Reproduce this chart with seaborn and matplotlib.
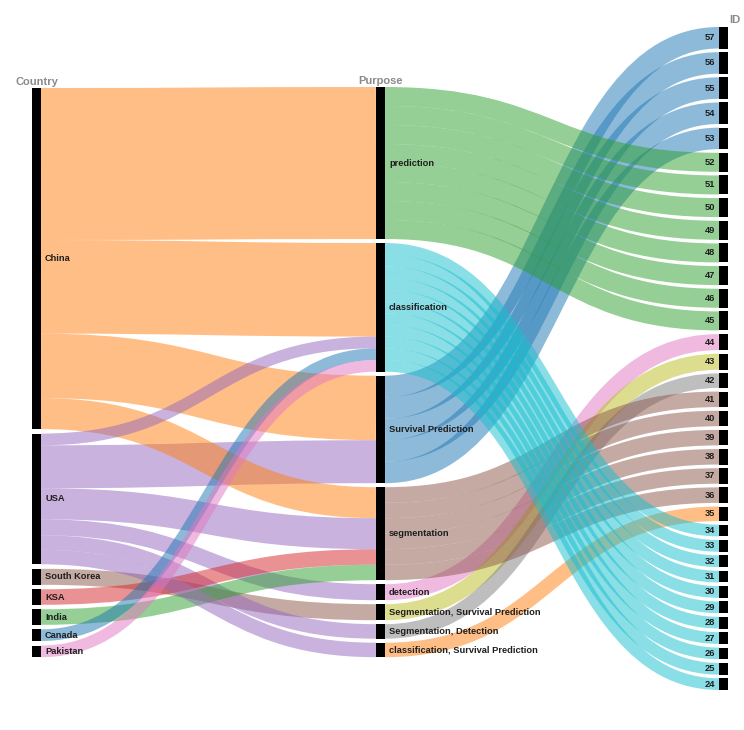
import numpy as np
import pandas as pd
import matplotlib
matplotlib.use("Agg")
import matplotlib.pyplot as plt
import seaborn as sns
from matplotlib.path import Path
from matplotlib.patches import PathPatch, Rectangle

sns.set_theme(style="white")
plt.rcParams["font.family"] = ["Liberation Sans", "DejaVu Sans"]

# ---------------- data ----------------
countries = ["China", "USA", "South Korea", "KSA", "India", "Canada", "Pakistan"]
purposes = ["prediction", "classification", "Survival Prediction", "segmentation",
            "detection", "Segmentation, Survival Prediction",
            "Segmentation, Detection", "classification, Survival Prediction"]

id_labels = ["57", "56", "55", "54", "53",
             "52", "51", "50", "49", "48", "47", "46", "45",
             "44", "43", "42",
             "41", "40", "39", "38", "37", "36",
             "35",
             "34", "33", "32", "31", "30", "29", "28", "27", "26", "25", "24"]
id_purpose = (["Survival Prediction"] * 5 + ["prediction"] * 8 +
              ["detection", "Segmentation, Survival Prediction", "Segmentation, Detection"] +
              ["segmentation"] * 6 + ["classification, Survival Prediction"] +
              ["classification"] * 11)
id_country = (["China", "China", "China", "USA", "USA"] + ["China"] * 8 +
              ["USA", "South Korea", "USA"] +
              ["China", "China", "USA", "USA", "KSA", "India"] + ["USA"] +
              ["China"] * 8 + ["USA", "Canada", "Pakistan"])
# flow width of one record, read per purpose from the picture
purpose_weight = [19.0, 11.7, 21.5, 15.5, 16.0, 16.0, 14.5, 14.5]

tab = sns.color_palette("tab10")
country_color_idx = [1, 4, 5, 3, 2, 0, 6]
purpose_color_idx = [2, 9, 0, 5, 6, 8, 7, 1]

# ---------------- layout params ----------------
W, H = 744, 730
bar_x = [32, 376, 719]
bar_w = 9
col_top = [88, 87, 27]
col_gap = [4.5, 4.0, 3.66]
titles = ["Country", "Purpose", "ID"]

df = pd.DataFrame({
    "Country": id_country,
    "Purpose": id_purpose,
    "ID": id_labels,
})
df["value"] = df["Purpose"].map(dict(zip(purposes, purpose_weight)))

cols = [countries, purposes, id_labels]
col_keys = ["Country", "Purpose", "ID"]
nodes = []  # per column dict name -> [y0, y1]
for c, (names, key) in enumerate(zip(cols, col_keys)):
    vals = df.groupby(key)["value"].sum()
    y = col_top[c]
    d = {}
    for n in names:
        v = vals[n]
        d[n] = [y, y + v]
        y += v + col_gap[c]
    nodes.append(d)

fig = plt.figure(figsize=(W / 100, H / 100), dpi=100)
ax = fig.add_axes([0, 0, 1, 1])
ax.set_xlim(0, W)
ax.set_ylim(H, 0)
ax.axis("off")

PX = 72 / 100.0


def draw_link(x0, y0, x1, y1, w, color):
    xm = (x0 + x1) / 2
    p = Path([(x0, y0), (xm, y0), (xm, y1), (x1, y1)],
             [Path.MOVETO, Path.CURVE4, Path.CURVE4, Path.CURVE4])
    ax.add_patch(PathPatch(p, fill=False, edgecolor=color, alpha=0.5,
                           linewidth=w * PX, capstyle="butt", zorder=1))


def draw_stage(c, src_key, tgt_key, color_of):
    links = df.groupby([src_key, tgt_key], sort=False)["value"].sum().reset_index()
    src_nodes, tgt_nodes = nodes[c], nodes[c + 1]
    links["sy"] = 0.0
    links["ty"] = 0.0
    for s, g in links.groupby(src_key):
        order = sorted(g.index, key=lambda i: tgt_nodes[links.at[i, tgt_key]][0])
        y = src_nodes[s][0]
        for i in order:
            links.at[i, "sy"] = y + links.at[i, "value"] / 2
            y += links.at[i, "value"]
    for t, g in links.groupby(tgt_key):
        order = sorted(g.index, key=lambda i: src_nodes[links.at[i, src_key]][0])
        y = tgt_nodes[t][0]
        for i in order:
            links.at[i, "ty"] = y + links.at[i, "value"] / 2
            y += links.at[i, "value"]
    for _, r in links.iterrows():
        draw_link(bar_x[c] + bar_w, r["sy"], bar_x[c + 1], r["ty"], r["value"],
                  color_of(r[src_key]))


cc = {n: tab[i] for n, i in zip(countries, country_color_idx)}
pc = {n: tab[i] for n, i in zip(purposes, purpose_color_idx)}
draw_stage(0, "Country", "Purpose", lambda n: cc[n])
draw_stage(1, "Purpose", "ID", lambda n: pc[n])

# node bars and labels
for c in range(3):
    for n, (y0, y1) in nodes[c].items():
        ax.add_patch(Rectangle((bar_x[c], y0), bar_w, y1 - y0, facecolor="black",
                               edgecolor="none", zorder=3))
        if c < 2:
            ax.text(bar_x[c] + bar_w + 4, (y0 + y1) / 2, n, ha="left", va="center",
                    fontsize=6.7, fontweight="bold", color="#1e1e1e", zorder=4)
        else:
            ax.text(bar_x[c] - 4, (y0 + y1) / 2, n, ha="right", va="center",
                    fontsize=6.7, fontweight="bold", color="#1e1e1e", zorder=4)

# column titles
for c in range(3):
    top = col_top[c]
    if c < 2:
        ax.text(bar_x[c] + bar_w / 2, top - 3, titles[c], ha="center", va="baseline",
                fontsize=8, fontweight="bold", color="#8a8a8a")
    else:
        ax.text(W - 3, top - 4, titles[c], ha="right", va="baseline",
                fontsize=8, fontweight="bold", color="#8a8a8a")

fig.savefig("out.png", dpi=100, facecolor="white")
